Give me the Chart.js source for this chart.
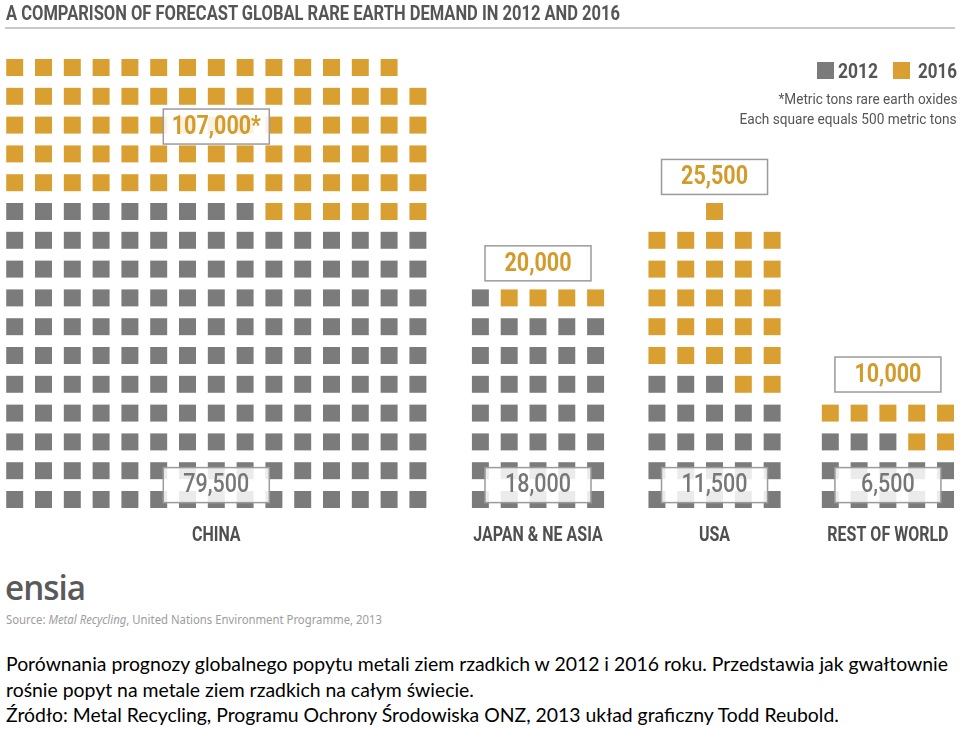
<!DOCTYPE html>
<html>
<head>
<meta charset="utf-8">
<script src="https://cdn.jsdelivr.net/npm/chart.js@4"></script>
<style>
  body { margin: 0; background: #fff; width: 960px; height: 729px; overflow: hidden; position: relative; }
  #chart { position: absolute; left: 0; top: 0; }
  .txt { position: absolute; white-space: nowrap; transform-origin: 0 0; }
  #title { left: 6px; top: 1px; font: bold 20px Roboto; color: #555; }
  #rule { position: absolute; left: 5px; top: 27px; width: 950px; height: 2px; background: #c9c9c9; }
  .key { position: absolute; top: 62px; width: 17px; height: 17px; }
  .keytxt { top: 59px; font: bold 21px Roboto; color: #555; }
  .note { right: 3px; font: 15px Roboto; color: #555; transform-origin: 100% 0; }
  #logo { left: 5px; top: 564px; font: 600 34px 'Open Sans'; letter-spacing: -1px; color: #5a5a5a; }
  #source { left: 6px; top: 611px; font: 12px 'Noto Sans'; color: #9d9d9d; }
  .cap { left: 6px; font: 20px Lato; color: #000; }
</style>
</head>
<body>
<canvas id="chart" width="960" height="560"></canvas>
<div class="txt" id="title">A COMPARISON OF FORECAST GLOBAL RARE EARTH DEMAND IN 2012 AND 2016</div>
<div id="rule"></div>
<div class="key" style="left:817px;background:#7b7b7b"></div>
<div class="txt keytxt" id="k12" style="left:838px">2012</div>
<div class="key" style="left:893px;background:#d9a031"></div>
<div class="txt keytxt" id="k16" style="left:918px">2016</div>
<div class="txt note" id="n1" style="top:90px">*Metric tons rare earth oxides</div>
<div class="txt note" id="n2" style="top:110px">Each square equals 500 metric tons</div>
<div class="txt" id="logo">ensia</div>
<div class="txt" id="source">Source: <i>Metal Recycling</i>, United Nations Environment Programme, 2013</div>
<div class="txt cap" style="top:651px">Porównania prognozy globalnego popytu metali ziem rzadkich w 2012 i 2016 roku. Przedstawia jak gwałtownie</div>
<div class="txt cap" style="top:677px">rośnie popyt na metale ziem rzadkich na całym świecie.</div>
<div class="txt cap" style="top:702px">Źródło: Metal Recycling, Programu Ochrony Środowiska ONZ, 2013 układ graficzny Todd Reubold.</div>

<script>
// demand in metric tons (labels)
const regions = ['CHINA', 'JAPAN & NE ASIA', 'USA', 'REST OF WORLD'];
const demand2012 = [79500, 18000, 11500, 6500];
const demand2016 = [107000, 20000, 25500, 10000];
const marks2016 = ['*', '', '', ''];

// squares as drawn (each = 500 t)
const squares2012 = [159, 36, 23, 13];
const squaresAdded2016 = [80, 4, 28, 7];

// grid layout, in square units
const gridCols = [15, 5, 5, 5];
const gridStart = [0, 16.17, 22.3, 28.32];
const label2016Row = [12.95, 8.2, 11.2, 4.34];

const GRAY = '#7b7b7b';
const GOLD = '#d9a031';

var pts2012 = [], pts2016 = [];
regions.forEach(function(r, k) {
  var cols = gridCols[k];
  var total = squares2012[k] + squaresAdded2016[k];
  for (var i = 0; i < total; i++) {
    var row = Math.floor(i / cols);
    var col = i % cols;
    var inRow = Math.min(cols, total - row * cols);
    var offset = Math.floor((cols - inRow) / 2);
    var p = { x: gridStart[k] + col + offset, y: row };
    if (i < squares2012[k]) pts2012.push(p); else pts2016.push(p);
  }
});

// condensed-looking text: squeeze horizontally
function narrowText(ctx, text, x, y, font, color, squeeze) {
  ctx.save();
  ctx.translate(x, y);
  ctx.scale(squeeze, 1);
  ctx.font = font;
  ctx.fillStyle = color;
  ctx.textAlign = 'center';
  ctx.textBaseline = 'middle';
  ctx.fillText(text, 0, 0);
  ctx.restore();
}

var boxLabels = {
  id: 'boxLabels',
  afterDatasetsDraw: function(chart) {
    var ctx = chart.ctx, xs = chart.scales.x, ys = chart.scales.y;
    function box(cx, cy, text, color, font) {
      ctx.save();
      ctx.fillStyle = 'rgba(255,255,255,0.85)';
      ctx.fillRect(cx - 53, cy - 17.5, 106, 35);
      ctx.strokeStyle = '#9b9b9b';
      ctx.lineWidth = 1.5;
      ctx.strokeRect(cx - 53, cy - 17.5, 106, 35);
      ctx.restore();
      narrowText(ctx, text, cx, cy + 1, font, color, 0.86);
    }
    regions.forEach(function(name, k) {
      var cx = xs.getPixelForValue(gridStart[k] + (gridCols[k] - 1) / 2);
      box(cx, ys.getPixelForValue(0.5), demand2012[k].toLocaleString('en-US'), '#767676', '500 25px Roboto');
      box(cx, ys.getPixelForValue(label2016Row[k]), demand2016[k].toLocaleString('en-US') + marks2016[k], '#d49a2a', 'bold 25px Roboto');
      narrowText(ctx, name, cx, ys.getPixelForValue(-1.27), 'bold 20px Roboto', '#4f4f4f', 0.8);
    });
  }
};

var ctx = document.getElementById('chart').getContext('2d');
var chart = new Chart(ctx, {
  type: 'scatter',
  data: {
    datasets: [
      { label: '2012', data: pts2012, backgroundColor: GRAY, pointStyle: 'rect', pointRadius: 12, borderWidth: 0 },
      { label: '2016', data: pts2016, backgroundColor: GOLD, pointStyle: 'rect', pointRadius: 12, borderWidth: 0 }
    ]
  },
  options: {
    responsive: false,
    animation: false,
    events: [],
    layout: { padding: 0, autoPadding: false },
    plugins: { legend: { display: false }, tooltip: { enabled: false } },
    scales: {
      x: { type: 'linear', min: -0.5104, max: 32.823, display: false },
      y: { type: 'linear', min: -2.1007, max: 17.344, display: false }
    }
  },
  plugins: [boxLabels]
});

// squeeze text lines to the widths seen in the reference
function fit(el, w) {
  var s = w / el.getBoundingClientRect().width;
  el.style.transform = 'scaleX(' + s + ')';
  return s;
}
fit(document.getElementById('title'), 614);
fit(document.getElementById('k12'), 40);
fit(document.getElementById('k16'), 39);
fit(document.getElementById('n1'), 179);
fit(document.getElementById('n2'), 217);
fit(document.getElementById('source'), 376);
fit(document.getElementById('logo'), 80);
var caps = document.querySelectorAll('.cap');
var s = fit(caps[0], 942);
caps[1].style.transform = caps[2].style.transform = 'scaleX(' + s + ')';
</script>
</body>
</html>
